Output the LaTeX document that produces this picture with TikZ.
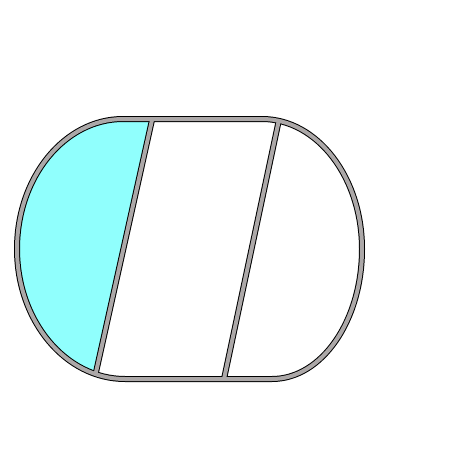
\documentclass[tikz,border=0pt]{standalone}
\definecolor{railgray}{RGB}{172,168,168}
\definecolor{aqua}{RGB}{144,255,253}
\begin{document}
\begin{tikzpicture}[x=1pt,y=-1pt,
  outerline/.style={draw=black,line width=6pt,line join=round,line cap=round},
  innerline/.style={draw=railgray,line width=4pt,line join=round,line cap=round}]
\useasboundingbox[fill=white] (0,0) rectangle (450,450);
\coordinate (T1) at (123,119);
\coordinate (L) at (17,249);
\coordinate (B1) at (125,379);
\coordinate (B2) at (272,379);
\coordinate (R) at (362,249);
\coordinate (T2) at (262,119);
\coordinate (D1a) at (152,120);
\coordinate (D1b) at (95.6,374);
\coordinate (D2a) at (278.5,122);
\coordinate (D2b) at (224,379);
\def\outershape{(T1) .. controls (64.5,119) and (17,177.2) .. (L)
  .. controls (17,320.8) and (65.4,379) .. (B1) -- (B2)
  .. controls (321.7,379) and (362,320.8) .. (R)
  .. controls (362,177.2) and (317.2,119) .. (T2) -- cycle}
\begin{scope}
  \clip (0,0) -- (178.7,0) -- (78.7,450) -- (0,450) -- cycle;
  \fill[aqua] \outershape;
\end{scope}
\path[outerline] \outershape;
\draw[outerline] (D1a) -- (D1b);
\draw[outerline] (D2a) -- (D2b);
\path[innerline] \outershape;
\draw[innerline] (D1a) -- (D1b);
\draw[innerline] (D2a) -- (D2b);
\end{tikzpicture}
\end{document}
